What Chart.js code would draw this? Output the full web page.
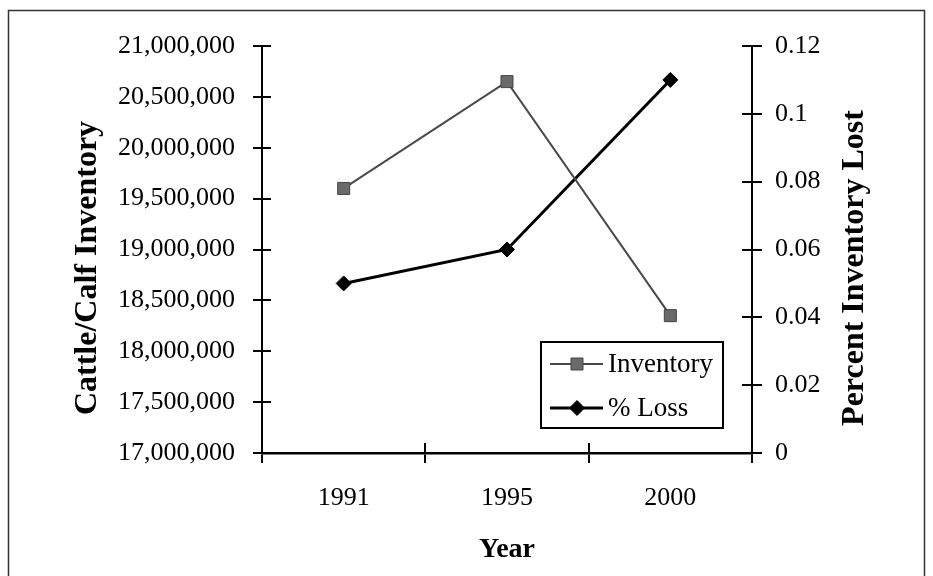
<!DOCTYPE html>
<html>
<head>
<meta charset="utf-8">
<script src="https://cdn.jsdelivr.net/npm/chart.js@4.4.1/dist/chart.umd.min.js"></script>
<style>
  body { margin: 0; background: #fff; }
  canvas { display: block; }
</style>
</head>
<body>
<canvas id="cattle" width="933" height="576"></canvas>
<script>
// data
const years = ['1991', '1995', '2000'];
const inventory = [19600000, 20650000, 18350000];
const pctLoss = [0.05, 0.06, 0.11];
const leftTicks = [17000000, 21000000, 500000];   // min, max, step
const rightTicks = [0, 0.12, 0.02];

const serif = '"Liberation Serif", "Times New Roman", serif';

// inner half of the cross ticks, legend box, titles and the outer frame
const extras = {
  id: 'extras',
  beforeDraw(chart) {
    const c = chart.ctx;
    c.save();
    c.fillStyle = '#fff';
    c.fillRect(0, 0, chart.width, chart.height);
    c.strokeStyle = '#333';
    c.lineWidth = 1.5;
    c.strokeRect(8.5, 10.5, 916, 620);
    c.restore();
  },
  afterDraw(chart) {
    const c = chart.ctx;
    const area = chart.chartArea;
    const sx = chart.scales.x, yl = chart.scales.y, yr = chart.scales.y1;
    c.save();
    c.strokeStyle = '#000';
    c.lineWidth = 2;
    c.beginPath();
    yl.ticks.forEach((t, i) => {
      const y = Math.round(yl.getPixelForTick(i));
      c.moveTo(area.left, y); c.lineTo(area.left + 9, y);
    });
    yr.ticks.forEach((t, i) => {
      const y = Math.round(yr.getPixelForTick(i));
      c.moveTo(area.right, y); c.lineTo(area.right - 10, y);
    });
    const n = years.length;
    for (let i = 0; i <= n; i++) {
      let x;
      if (i == 0) x = area.left;
      else if (i == n) x = area.right;
      else x = Math.round((sx.getPixelForTick(i - 1) + sx.getPixelForTick(i)) / 2);
      c.moveTo(x, area.bottom); c.lineTo(x, area.bottom - 10);
    }
    c.stroke();

    // legend
    const bw = 182, bh = 86;
    const bx = area.right - 29 - bw, by = area.bottom - 25 - bh;
    c.fillStyle = '#fff';
    c.fillRect(bx, by, bw, bh);
    c.lineWidth = 2;
    c.strokeStyle = '#000';
    c.strokeRect(bx, by, bw, bh);
    chart.data.datasets.forEach((ds, i) => {
      const cy = by + 22 + i * 44;
      c.beginPath();
      c.strokeStyle = ds.borderColor;
      c.lineWidth = ds.borderWidth;
      c.moveTo(bx + 9, cy); c.lineTo(bx + 62, cy);
      c.stroke();
      c.fillStyle = ds.pointBackgroundColor;
      c.strokeStyle = ds.pointBorderColor;
      c.lineWidth = 1;
      Chart.helpers.drawPoint(c, {
        pointStyle: ds.pointStyle, radius: ds.pointRadius, borderWidth: 1
      }, bx + 36, cy);
      c.fillStyle = '#000';
      c.font = '27px ' + serif;
      c.textAlign = 'left';
      c.textBaseline = 'middle';
      c.fillText(ds.label, bx + 67, cy + 1);
    });

    // axis titles
    c.fillStyle = '#000';
    c.font = 'bold 32px ' + serif;
    c.textAlign = 'center';
    c.textBaseline = 'middle';
    const midY = 268;
    [[88, 'Cattle/Calf Inventory'], [855, 'Percent Inventory Lost']].forEach(([x, txt]) => {
      c.save();
      c.translate(x, midY);
      c.rotate(-Math.PI / 2);
      c.fillText(txt, 0, 0);
      c.restore();
    });
    c.font = 'bold 28px ' + serif;
    c.fillText('Year', (area.left + area.right) / 2, 550);
    c.restore();
  }
};

new Chart(document.getElementById('cattle'), {
  type: 'line',
  data: {
    labels: years,
    datasets: [{
      label: 'Inventory',
      data: inventory,
      yAxisID: 'y',
      borderColor: '#4a4a4a',
      borderWidth: 2,
      pointStyle: 'rect',
      pointRadius: 8.5,
      pointBackgroundColor: '#6a6a6a',
      pointBorderColor: '#444',
      pointBorderWidth: 1,
      tension: 0
    }, {
      label: '% Loss',
      data: pctLoss,
      yAxisID: 'y1',
      borderColor: '#000',
      borderWidth: 3,
      pointStyle: 'rectRot',
      pointRadius: 7.5,
      pointBackgroundColor: '#000',
      pointBorderColor: '#000',
      pointBorderWidth: 1,
      tension: 0
    }]
  },
  options: {
    responsive: false,
    animation: false,
    layout: { padding: { top: 46, left: 0, right: 0, bottom: 0 } },
    plugins: {
      legend: { display: false },
      tooltip: { enabled: false }
    },
    scales: {
      x: {
        type: 'category',
        offset: true,
        grid: { offset: true, drawOnChartArea: false, tickLength: 10, color: '#000', lineWidth: 2 },
        border: { color: '#000', width: 2.5 },
        ticks: { color: '#000', padding: 20, font: { family: serif, size: 26 } },
        afterFit(s) { s.height = 123; }
      },
      y: {
        position: 'left',
        min: leftTicks[0],
        max: leftTicks[1],
        grid: { drawOnChartArea: false, tickLength: 9, color: '#000', lineWidth: 2 },
        border: { color: '#000', width: 2 },
        ticks: {
          stepSize: leftTicks[2],
          color: '#000',
          padding: 18,
          font: { family: serif, size: 26 },
          callback: v => v.toLocaleString('en-US')
        },
        afterFit(s) { s.width = 262; }
      },
      y1: {
        position: 'right',
        min: rightTicks[0],
        max: rightTicks[1],
        grid: { drawOnChartArea: false, tickLength: 10, color: '#000', lineWidth: 2 },
        border: { color: '#000', width: 2 },
        ticks: {
          stepSize: rightTicks[2],
          color: '#000',
          padding: 13,
          font: { family: serif, size: 26 },
          callback: v => String(+v.toFixed(2))
        },
        afterFit(s) { s.width = 181; }
      }
    }
  },
  plugins: [extras]
});
</script>
</body>
</html>
